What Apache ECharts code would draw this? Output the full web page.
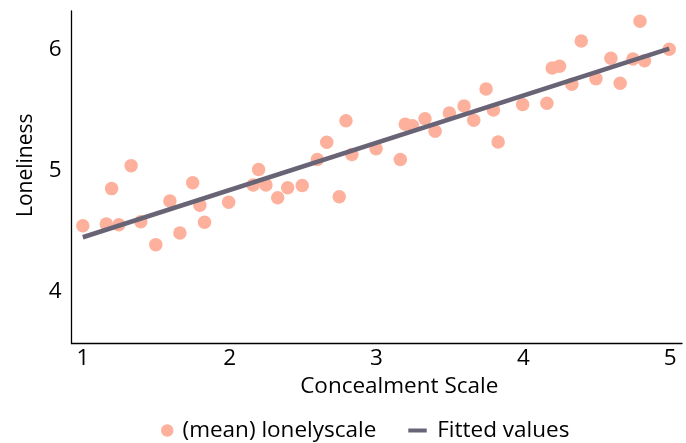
<!DOCTYPE html>
<html>
<head>
<meta charset="utf-8">
<script src="https://cdn.jsdelivr.net/npm/echarts@6/dist/echarts.min.js"></script>
<style>
html,body{margin:0;padding:0;background:#fff;}
#main{width:686px;height:443px;}
</style>
</head>
<body>
<div id="main"></div>
<script>
// Concealment scale (x) and mean loneliness (y)
var concealment = [1.00,1.16,1.245,1.196,1.329,1.395,1.497,1.593,1.661,1.748,1.797,1.829,1.993,2.160,2.197,2.247,2.327,2.395,2.494,2.597,2.661,2.746,2.792,2.832,2.997,3.162,3.196,3.245,3.330,3.399,3.496,3.596,3.662,3.746,3.796,3.828,3.995,4.160,4.196,4.246,4.330,4.394,4.494,4.596,4.659,4.746,4.794,4.825,4.993];
var lonelyscale = [4.544,4.558,4.552,4.850,5.040,4.577,4.387,4.748,4.483,4.899,4.712,4.572,4.737,4.880,5.008,4.880,4.774,4.858,4.876,5.090,5.233,4.783,5.411,5.132,5.179,5.091,5.383,5.369,5.428,5.324,5.475,5.533,5.415,5.674,5.500,5.236,5.545,5.555,5.847,5.861,5.712,6.070,5.759,5.927,5.721,5.921,6.233,5.907,6.002];
// Fitted values (linear fit) at the ends of the data range
var fittedX = [1.00, 4.993];
var fittedY = [4.448, 6.007];
var xTicks = [1,2,3,4,5];
var yTicks = [4,5,6];
var seriesNames = ['(mean) lonelyscale','Fitted values'];

var FONT = '"Open Sans"';
var FS = 22.5;
var chart = echarts.init(document.getElementById('main'), null, {renderer:'canvas'});
function intFmt(ticks){
  return function(v){ return ticks.indexOf(Math.round(v*1000)/1000) >= 0 ? String(v) : ''; };
}
var option = {
  backgroundColor:'#ffffff',
  animation:false,
  grid:{left:71.5, top:11, right:4, bottom:99.5, containLabel:false},
  xAxis:{
    type:'value', min:0.923, max:5.08,
    name:'Concealment Scale', nameLocation:'middle', nameGap:29,
    nameTextStyle:{color:'#000', fontSize:FS, fontFamily:FONT, padding:[0,0,0,45]},
    axisLine:{show:true, onZero:false, lineStyle:{color:'#000', width:1.3}},
    axisTick:{show:false}, splitLine:{show:false},
    axisLabel:{color:'#000', fontSize:FS, fontFamily:FONT, margin:4, showMinLabel:false, showMaxLabel:false, formatter:intFmt(xTicks)}
  },
  yAxis:{
    type:'value', min:3.57, max:6.318, splitNumber:3,
    name:'Loneliness', nameLocation:'middle', nameGap:35,
    nameTextStyle:{color:'#000', fontSize:21, fontFamily:FONT, padding:[0,0,0,24]},
    axisLine:{show:true, onZero:false, lineStyle:{color:'#000', width:1.3}},
    axisTick:{show:false}, splitLine:{show:false},
    axisLabel:{color:'#000', fontSize:FS, fontFamily:FONT, margin:10, showMinLabel:false, showMaxLabel:false, formatter:intFmt(yTicks)}
  },
  legend:[
    {data:[seriesNames[0]], icon:'circle', itemWidth:12.5, itemHeight:12.5, padding:0, left:161, top:419,
     textStyle:{color:'#000', fontSize:FS, fontFamily:FONT, padding:[0,0,0,4]}},
    {data:[seriesNames[1]], icon:'rect', itemWidth:18.4, itemHeight:4, padding:0, left:408.3, top:419,
     textStyle:{color:'#000', fontSize:FS, fontFamily:FONT, padding:[0,0,0,5.5]}}
  ],
  series:[
    {name:seriesNames[0], type:'scatter', symbol:'circle', symbolSize:13.5,
     itemStyle:{color:'#fdb19c', opacity:1},
     data:concealment.map(function(x,i){return [x, lonelyscale[i]];}), z:2},
    {name:seriesNames[1], type:'line', symbol:'none', showSymbol:false,
     lineStyle:{color:'#686375', width:4.5}, itemStyle:{color:'#686375'},
     data:fittedX.map(function(x,i){return [x, fittedY[i]];}), z:3}
  ]
};
chart.setOption(option);
</script>
</body>
</html>
